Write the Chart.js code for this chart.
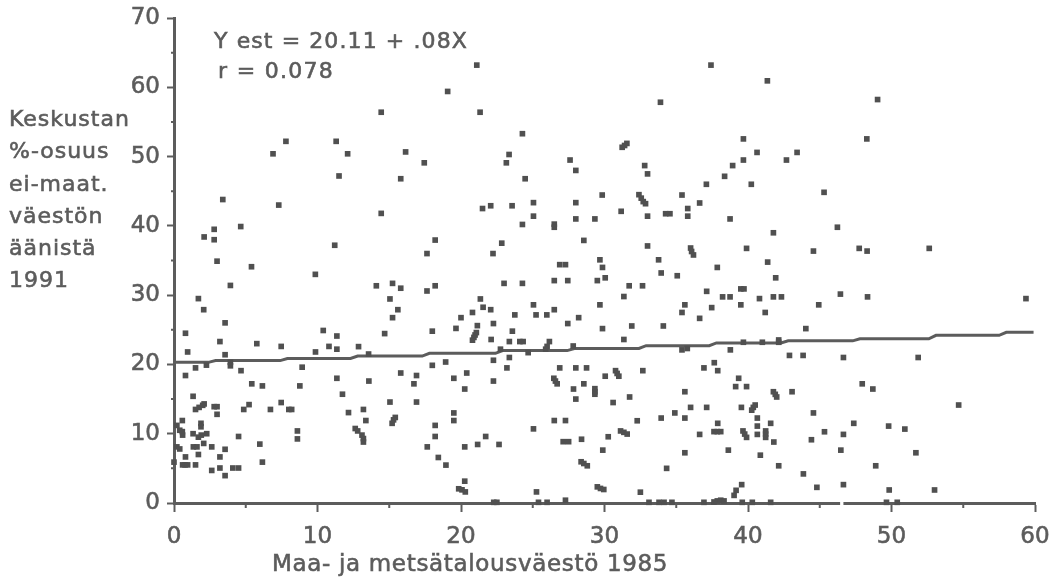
<!DOCTYPE html>
<html>
<head>
<meta charset="utf-8">
<title>Keskustan osuus</title>
<script src="https://cdn.jsdelivr.net/npm/chart.js@4"></script>
<style>
    html, body { margin: 0; padding: 0; background: #fff; }
    #wrap { position: relative; width: 1056px; height: 580px; overflow: hidden; }
    .txt {
        position: absolute;
        font-family: "DejaVu Sans", sans-serif;
        font-size: 22px;
        color: #5c5c5c;
        -webkit-text-stroke: 0.6px #5c5c5c;
        white-space: nowrap;
    }
</style>
</head>
<body>
<div id="wrap">
    <canvas id="myChart" width="1056" height="580"></canvas>
    <div class="txt" style="left:214px; top:28px; letter-spacing:1.1px;">Y est = 20.11 + .08X</div>
    <div class="txt" style="left:218px; top:58px; letter-spacing:1.3px;">r = 0.078</div>
    <div class="txt" id="yLabel" style="left:9px; top:103px; line-height:32.3px; letter-spacing:1px;"></div>
    <div class="txt" style="left:272px; top:550px; font-size:23px; letter-spacing:0.67px;">Maa- ja metsätalousväestö 1985</div>
</div>
<script>
const xTicks = [0, 10, 20, 30, 40, 50, 60];
const yTicks = [0, 10, 20, 30, 40, 50, 60, 70];
const xMinorTicks = [5, 15, 25, 35, 45, 55];
const yMinorTicks = [5, 15, 25, 35, 45, 55, 65];
const xAxisGap = [46.42, 46.65];
const yLabelLines = ['Keskustan', '%-osuus', 'ei-maat.', 'väestön', 'äänistä', '1991'];

// regression line as it is printed, in steps
const lineX = [0, 2.4, 2.9, 7.4, 7.9, 12.3, 12.8, 17.3, 17.8, 22.4, 22.9, 27.4, 27.9, 32.4, 32.9, 37.3, 37.8, 42.3, 42.8, 47.3, 47.8, 52.6, 53.1, 57.5, 58, 59.9];
const lineY = [20.3, 20.3, 20.55, 20.55, 20.85, 20.85, 21.2, 21.2, 21.6, 21.6, 22, 22, 22.3, 22.3, 22.7, 22.7, 23.1, 23.1, 23.4, 23.4, 23.7, 23.7, 24.2, 24.2, 24.64, 24.64];

// maa- ja metsätalousväestö %, keskustan %-osuus
const municipalities = [
    [7.8,52.2],[6.9,50.4],[11.3,52.2],[12.1,50.4],[11.5,47.2],[3.4,43.8],[7.3,43],[4.65,39.9],[2.8,39.5],[2.1,38.4],
    [2.8,38],[11.2,37.2],[3,34.9],[5.4,34.1],[9.85,33],
    [3.93,31.4],[1.7,29.5],[2.07,27.9],[3.56,26],[0.8,24.5],[10.4,24.9],[11.35,24.1],[3.2,23.3],[5.77,23],[7.47,22.6],
    [10.8,22.6],[11.35,22.2],[9.86,21.8],[0.95,21.8],[3.56,21.4],[3.93,20.3],[3.93,19.8],[1.5,19.5],[2.26,19.9],[4.67,19.1],
    [8.93,19.6],[0.8,18.4],[11.35,18],[5.42,17.2],[6.16,16.9],[8.77,16.9],[11.74,15.7],[1.33,15.4],[7.47,14.5],[5.23,14.2],
    [4.86,13.5],[6.72,13.5],[8,13.5],[8.2,13.5],[2.8,13.9],[3,13.9],[3,12.8],[12.16,13.05],[1.5,13.5],[1.75,13.8],
    [2,14.1],[2.1,14.3],[0.58,11.9],[1.88,11.5],[1.88,11],[0.2,11.2],[0.4,10.5],[0.6,9.8],[0.58,10.3],[1.33,10],
    [2.28,10],[1.7,9.5],[1.9,9.8],[4.5,9.6],[8.6,10.4],[8.6,9.25],[2.07,8.6],[5.98,8.5],[1.35,8.1],[1.6,8.1],
    [2.63,8.1],[0.2,8.1],[0.4,7.8],[3.56,7.75],[1.7,7],[0.8,6.65],[3.2,6.65],[0,5.9],[0.6,5.5],[0.77,5.5],
    [0.95,5.5],[1.5,5.5],[6.16,5.9],[3.2,5.05],[2.63,4.7],[4.1,5.05],[4.5,5.05],[3.56,3.95],
    [21.1,63.2],[19.07,59.4],[14.44,56.4],[21.33,56.4],[33.9,57.84],[24.28,53.3],[16.14,50.67],[17.44,49.1],[23.35,50.3],[23.16,49.1],
    [27.6,49.5],[28,48],[15.8,46.8],[24.47,46.8],[31.23,51.34],[31.4,51.6],[31.56,51.9],[32.8,48.7],[33,47.5],[29.84,44.45],
    [35.4,44.45],[32.4,44.5],[32.56,44],[32.7,43.5],[32.86,43.2],[14.44,41.8],[21.5,42.5],[22.07,42.9],[23.56,42.9],[25.05,43.35],
    [28,43.35],[35.8,42.5],[36.63,43.3],[31.16,42.1],[25.05,41.4],[28,41],[29.33,41],[33,41.4],[34.26,41.75],[34.56,41.75],
    [35.8,41.4],[24.28,40.2],[26.5,40.25],[26.5,39.8],[28.56,37.9],[18.2,37.95],[17.63,36],[22.84,37.5],[22.23,36],[33,37.1],
    [36,36.8],[36.07,36.3],[36.2,35.8],[29.68,35.1],[33.77,35.1],[26.88,34.4],[27.28,34.4],[29.86,34],[33.95,33.2],[35.07,32.8],
    [14.1,31.35],[15.23,31.7],[15.8,31],[17.63,30.6],[18.2,31.35],[23,31.7],[24.28,31.7],[26.5,32.1],[27.44,32.1],[29.5,32.1],
    [30.05,32.5],[31.72,31.35],[32.65,31.35],
    [31.35,29.8],[15.05,29.45],[21.35,29.45],[15.6,27.9],[21.54,28.25],[22.07,27.9],[15.23,26.75],[20.8,27.5],[20,26.75],[25.05,28.6],
    [29.68,28.6],[35.6,28.6],[35.4,27.5],[23.75,27.15],[25.23,27.15],[25.98,27.15],[26.5,27.9],[28.2,26.75],[36.63,26.65],[27.44,25.9],
    [22.26,25.9],[21.14,25.6],[19.65,25.2],[18,24.8],[14.68,24.45],[23.58,24.8],[29.86,25.17],[31.9,25.55],[34.1,25.55],[20.8,23.5],
    [20.9,23.9],[20.98,24.25],[21.07,24.6],[22.1,23.6],[23.37,23.3],[24.1,23.3],[24.33,23.3],[31.35,23.6],[12.86,22.57],[26.16,23.3],
    [26,22.6],[25.9,22.2],[13.56,21.5],[22.75,22.2],[24.68,21.7],[27.82,22.66],[35.4,22.1],[35.77,22.3],[22.26,20.6],[23.37,21],
    [18,19.87],[18.93,20.35],[23.2,19.5],[26.88,19.5],[28,19.5],[28.75,19.5],[32.67,19.1],[15.8,18.76],[16.9,18.4],[20.4,18.76],
    [19.5,18],[30.05,18.3],[30.77,19.1],[30.88,18.7],[31,18.3],[13.58,17.6],[16.72,17.2],[22.26,17.6],[26.47,18],[26.58,17.6],
    [26.7,17.2],[28.56,17.2],[20.26,16.45],[27.84,16.45],[29.33,16.5],[29.33,16.06],[29.33,15.7],[35.6,16.06],[31.75,15.3],[28,15],
    [15.05,14.57],[16.9,14.57],[30.6,14.5],[13.2,13.5],[36,13.8],[19.5,13],[34.9,13],[33.95,12.26],[35.6,12.26],[13.37,11.9],
    [15.42,12.35],[15.3,12],[15.2,11.5],[19.5,11.9],[26.5,11.9],[27.28,11.9],[32.28,11.87],[18.2,11.2],[25.05,10.7],[12.63,10.75],
    [12.8,10.4],[13.1,9.8],[13.2,9.3],[13.2,8.8],[31.12,10.4],[31.35,10.2],[31.58,9.95],[36.63,9.9],[18.2,9.6],[21.72,9.6],
    [30.26,9.56],[28.4,9.2],[27.12,8.85],[27.5,8.85],[21.16,8.45],[22.65,8.45],[17.65,8.1],[20.26,8.1],[29.88,7.63],[35.6,7.25],
    [18.42,6.57],[28.37,5.95],[28.56,5.7],[28.8,5.37],[18.95,5.47],[34.33,5],[20.26,3.15],[19.84,2.05],[20.07,1.9],[20.3,1.6],
    [29.5,2.33],[29.72,2.1],[29.95,1.95],[25.26,1.6],[32.5,1.56],[27.28,0.4],[22.28,0.1],[22.5,0.1],[25.4,0.1],[26,0.1],
    [33.1,0.1],[33.8,0.1],[34.15,0.1],[34.7,0.1],
    [37.42,63.2],[41.35,60.93],[49.03,58.23],[39.68,52.55],[48.28,52.55],[40.63,50.6],[43.42,50.6],[39.68,49.5],[42.68,49.5],[38.93,48.7],
    [38.37,47.15],[37.1,46],[40.23,46],[45.3,44.84],[38.75,41],[41.77,39],[46.23,39.8],[39.9,36.75],[44.56,36.36],[47.75,36.75],
    [48.3,36.36],[52.63,36.75],[37.86,34],[41.37,34.77],[41.93,32.5],[37.12,30.55],[39.5,30.9],[39.72,30.9],[38.23,29.75],[38.75,29.75],
    [40.8,29.5],[41.77,29.75],[42.33,29.75],[46.44,30.15],[48.33,29.75],[59.37,29.5],
    [39.5,28.6],[44.93,28.6],[37.47,28.2],[41.2,27.5],[44.03,25.17],[42.14,23.53],[42.14,23.2],[39.68,23.2],[41,23.2],[38.77,22.1],
    [42.89,21.3],[43.84,21.3],[46.65,21],[51.86,21],[37.65,20.25],[36.93,19.5],[37.89,19.1],[39.35,18],[47.96,17.2],[48.7,16.45],
    [39.14,16.8],[39.9,16.8],[41.77,16.06],[41.9,15.68],[42,15.3],[43.07,16.06],[40.5,14.14],[40.37,13.8],[40.26,13.4],[37.12,13.8],
    [39.54,13.8],[54.68,14.14],[44.56,13],[40.65,12.26],[37.89,11.5],[41.58,11.5],[47.37,11.5],[49.8,11.1],[50.93,10.67],[40.65,11.1],
    [37.63,10.3],[37.86,10.3],[38.1,10.3],[39.65,10.4],[39.77,9.95],[39.9,9.47],[41.23,10.4],[41.23,9.95],[41.23,9.47],[40.65,9.9],
    [45.33,10.28],[46.65,9.9],[44.42,9.13],[41.8,8.8],[38.63,7.63],[46.47,7.63],[51.7,7.25],[40.86,6.9],[42.14,5.37],[48.9,5.37],
    [43.86,4.2],[39.56,2.65],[39.17,1.83],[39.03,1.1],[44.8,2.26],[46.65,2.65],[49.84,1.88],[53,1.88],[36.93,0.1],[37.63,0.15],
    [37.86,0.3],[38.1,0.4],[38.33,0.3],[39.6,0.1],[40.3,0.1],[41.58,0.1],[49.65,0.1],[50.4,0.1]
];

const inkColor = '#5c5c5c';
const textColor = '#5c5c5c';

document.getElementById('yLabel').innerHTML = yLabelLines.join('<br>');

// Chart.js has one tick length per axis, the short 5-step ticks are drawn here
const minorTicksPlugin = {
    id: 'minorTicks',
    afterDraw(chart) {
        const ctx = chart.ctx;
        const { x, y } = chart.scales;
        ctx.save();
        ctx.strokeStyle = inkColor;
        ctx.lineWidth = 2;
        ctx.beginPath();
        xMinorTicks.forEach(v => {
            const px = x.getPixelForValue(v);
            ctx.moveTo(px, y.bottom);
            ctx.lineTo(px, y.bottom + 5);
        });
        yMinorTicks.forEach(v => {
            const py = y.getPixelForValue(v);
            ctx.moveTo(x.left, py);
            ctx.lineTo(x.left - 3, py);
        });
        ctx.stroke();
        // the break in the printed x axis line
        ctx.fillStyle = '#fff';
        const gapLeft = x.getPixelForValue(xAxisGap[0]);
        ctx.fillRect(gapLeft, y.bottom - 2, x.getPixelForValue(xAxisGap[1]) - gapLeft, 4);
        ctx.restore();
    }
};

const ctx = document.getElementById('myChart').getContext('2d');
const myChart = new Chart(ctx, {
    type: 'scatter',
    data: {
        datasets: [
            {
                label: 'Kunnat',
                data: municipalities.map(p => ({ x: p[0], y: p[1] })),
                pointStyle: 'rect',
                pointRadius: 4,
                pointBackgroundColor: '#505050',
                pointBorderWidth: 0,
                clip: false
            },
            {
                label: 'Y est',
                data: lineX.map((v, i) => ({ x: v, y: lineY[i] })),
                showLine: true,
                pointRadius: 0,
                borderColor: inkColor,
                borderWidth: 3,
                tension: 0,
                clip: false
            }
        ]
    },
    options: {
        responsive: false,
        animation: false,
        layout: { padding: { left: 0, right: 21, top: 18, bottom: 0 } },
        plugins: {
            legend: { display: false },
            tooltip: { enabled: false }
        },
        scales: {
            x: {
                type: 'linear',
                min: 0,
                max: 60,
                afterBuildTicks: scale => { scale.ticks = xTicks.map(v => ({ value: v })); },
                afterFit: scale => {
                    scale.height = 77;
                    scale.paddingLeft = 0;
                    scale.paddingRight = 0;
                },
                border: { color: inkColor, width: 3 },
                grid: { drawOnChartArea: false, color: inkColor, tickLength: 9, tickWidth: 2 },
                ticks: {
                    color: textColor,
                    padding: 11,
                    maxRotation: 0,
                    textStrokeColor: textColor,
                    textStrokeWidth: 0.6,
                    font: { family: '"DejaVu Sans"', size: 23 }
                }
            },
            y: {
                min: 0,
                max: 70,
                afterBuildTicks: scale => { scale.ticks = yTicks.map(v => ({ value: v })); },
                afterFit: scale => {
                    scale.width = 174;
                    scale.paddingTop = 0;
                    scale.paddingBottom = 0;
                },
                border: { color: inkColor, width: 3 },
                grid: { drawOnChartArea: false, color: inkColor, tickLength: 7, tickWidth: 2 },
                ticks: {
                    color: textColor,
                    padding: 7,
                    textStrokeColor: textColor,
                    textStrokeWidth: 0.6,
                    font: { family: '"DejaVu Sans"', size: 23 }
                }
            }
        }
    },
    plugins: [minorTicksPlugin]
});
</script>
</body>
</html>
